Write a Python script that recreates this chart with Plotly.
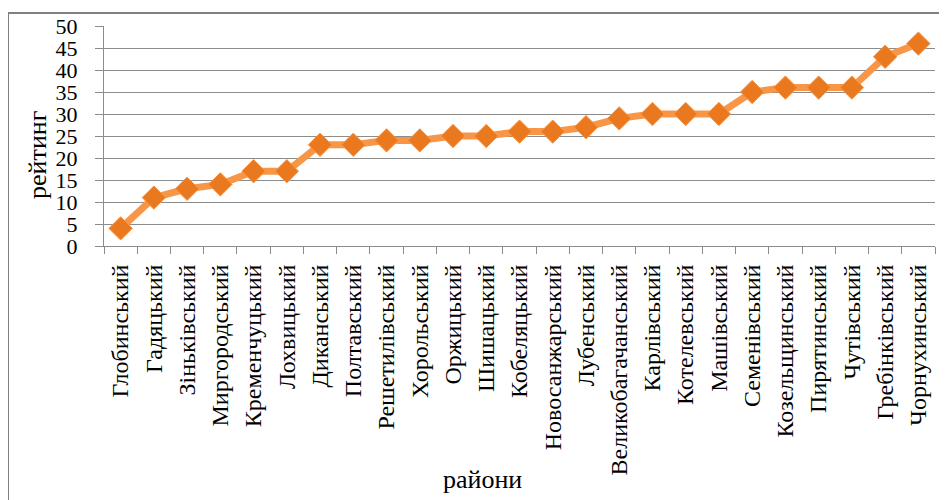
import plotly.graph_objects as go

# райони та рейтинг
districts = [
    "Глобинський", "Гадяцький", "Зіньківський", "Миргородський", "Кременчуцький",
    "Лохвицький", "Диканський", "Полтавський", "Решетилівський", "Хорольський",
    "Оржицький", "Шишацький", "Кобеляцький", "Новосанжарський", "Лубенський",
    "Великобагачанський", "Карлівський", "Котелевський", "Машівський", "Семенівський",
    "Козельщинський", "Пирятинський", "Чутівський", "Гребінківський", "Чорнухинський",
]
rating = [4, 11, 13, 14, 17, 17, 23, 23, 24, 24, 25, 25, 26, 26, 27, 29, 30, 30, 30, 35,
          36, 36, 36, 43, 46]

font_family = "Liberation Serif, Times New Roman, serif"
grey = "#8c8c8c"

fig = go.Figure()
fig.add_trace(
    go.Scatter(
        x=districts,
        y=rating,
        mode="lines+markers",
        line=dict(color="#F79646", width=7),
        marker=dict(symbol="diamond", size=18, color="#E9781F",
                    line=dict(color="#F79646", width=1)),
        showlegend=False,
    )
)

fig.update_layout(
    width=947,
    height=500,
    margin=dict(l=96, r=20, t=18, b=262),
    paper_bgcolor="white",
    plot_bgcolor="white",
    font=dict(family=font_family, color="black", size=22),
    xaxis=dict(
        type="category",
        tickangle=-90,
        tickson="boundaries",
        ticks="outside",
        ticklen=7,
        tickcolor=grey,
        showline=True,
        linecolor=grey,
        linewidth=1,
        showgrid=False,
        tickfont=dict(size=24),
        ticklabelstandoff=8,
        automargin=False,
        range=[-0.5, 24.5],
    ),
    yaxis=dict(
        range=[0, 50],
        dtick=5,
        ticks="outside",
        ticklen=8,
        tickcolor=grey,
        showline=True,
        linecolor=grey,
        showgrid=True,
        gridcolor=grey,
        gridwidth=1,
        zeroline=False,
        tickfont=dict(size=22),
        ticklabelstandoff=13,
        automargin=False,
    ),
)

# назви осей
fig.add_annotation(
    text="рейтинг", textangle=-90, showarrow=False,
    xref="paper", yref="paper", x=-0.0794, y=0.414,
    xanchor="center", yanchor="middle", font=dict(size=26),
)
fig.add_annotation(
    text="райони", showarrow=False,
    xref="paper", yref="paper", x=0.456, y=-1.06,
    xanchor="center", yanchor="middle", font=dict(size=26),
)

# рамка навколо діаграми
fig.add_shape(
    type="rect", xref="paper", yref="paper",
    x0=-0.1155, y0=-1.3, x1=1.06, y1=1.059,
    line=dict(color="#808080", width=2),
)

fig.write_html("out.html")
